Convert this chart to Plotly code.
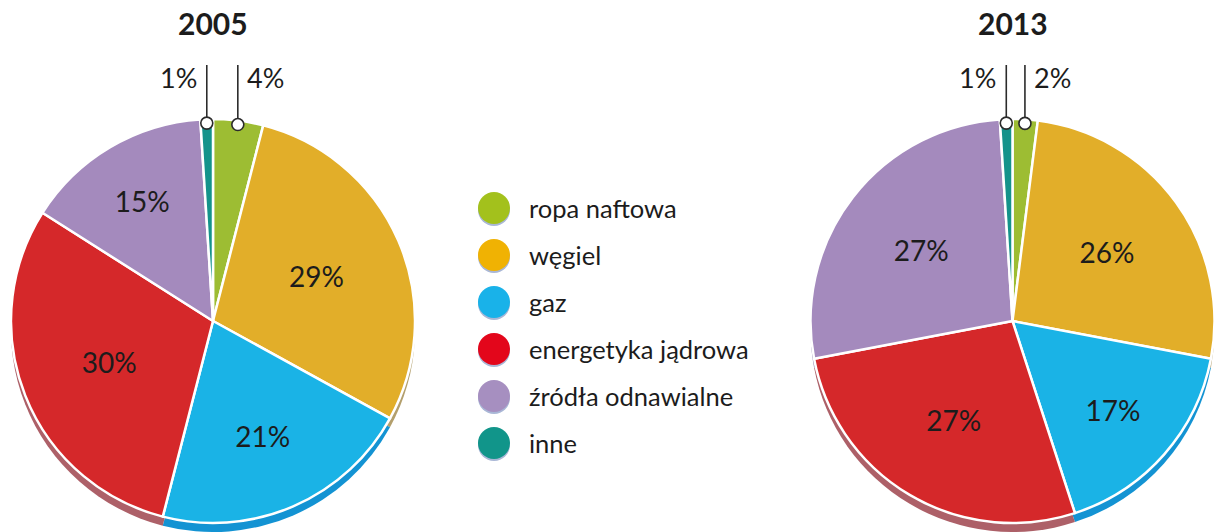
import math
import plotly.graph_objects as go

# ---------------- data ----------------
categories = ["ropa naftowa", "węgiel", "gaz", "energetyka jądrowa", "źródła odnawialne", "inne"]
years = ["2005", "2013"]
values_2005 = [4, 29, 21, 30, 15, 1]
values_2013 = [2, 26, 17, 27, 27, 1]

# ---------------- style ----------------
face_colors = ["#9dbd33", "#e2ae29", "#1ab3e6", "#d5282a", "#a48abd", "#14938b"]
rim_colors = ["#7f9a3a", "#b39f6c", "#1393d3", "#ad6068", "#8a80a8", "#1b756f"]
legend_colors = ["#a3c11c", "#f0b203", "#19b2e9", "#e3061b", "#a68fc0", "#11958a"]
FONT = "Lato, 'Open Sans', sans-serif"
TXT = "#1c1c1c"

W, H = 1215, 532


def px(x):
    return x / W


def py(y):
    return 1 - y / H


# pie boxes in pixels (x0, x1), shared (y0, y1)
boxes = [(9, 417), (810, 1215)]
Y0, Y1 = 119, 523
DEPTH = 9

fig = go.Figure()
shapes = []
annotations = []

for vals, (bx0, bx1), year in zip([values_2005, values_2013], boxes, years):
    labels_txt = [f"{v}%" if v >= 5 else "" for v in vals]
    # rim (3D depth) drawn first, shifted down
    fig.add_trace(go.Pie(
        values=vals, labels=categories, sort=False, direction="clockwise", rotation=0,
        domain=dict(x=[px(bx0), px(bx1)], y=[py(Y1 + DEPTH), py(Y0 + DEPTH)]),
        marker=dict(colors=rim_colors, line=dict(width=0)),
        textinfo="none", hoverinfo="skip", showlegend=False,
    ))
    fig.add_trace(go.Pie(
        values=vals, labels=categories, sort=False, direction="clockwise", rotation=0,
        domain=dict(x=[px(bx0), px(bx1)], y=[py(Y1), py(Y0)]),
        marker=dict(colors=face_colors, line=dict(color="white", width=2.5)),
        text=labels_txt, textinfo="text", textposition="inside",
        insidetextorientation="horizontal",
        textfont=dict(family=FONT, size=28, color=TXT),
        hoverinfo="skip", showlegend=False,
    ))

    cx = (bx0 + bx1) / 2
    cy = (Y0 + Y1) / 2
    r = min(bx1 - bx0, Y1 - Y0) / 2
    total = sum(vals)
    cum = 0
    for v in vals:
        if v < 5:
            th = 2 * math.pi * (cum + v / 2) / total
            mx = cx + (r - 4) * math.sin(th)
            my = cy - (r - 4) * math.cos(th)
            shapes.append(dict(type="line", xref="paper", yref="paper",
                               x0=px(mx), x1=px(mx), y0=py(my), y1=py(65),
                               line=dict(color="#2b2b2b", width=1.6), layer="above"))
            shapes.append(dict(type="circle", xref="paper", yref="paper",
                               x0=px(mx - 6), x1=px(mx + 6), y0=py(my + 6), y1=py(my - 6),
                               fillcolor="white", line=dict(color="#2b2b2b", width=1.6),
                               layer="above"))
            left = mx < cx
            annotations.append(dict(
                x=px(mx - 8) if left else px(mx + 7), y=py(77),
                xref="paper", yref="paper", xanchor="right" if left else "left",
                yanchor="middle", text=f"{v}%", showarrow=False,
                font=dict(family=FONT, size=27, color=TXT)))
        cum += v

    annotations.append(dict(x=px(cx), y=py(23), xref="paper", yref="paper",
                            xanchor="center", yanchor="middle", text=f"<b>{year}</b>",
                            showarrow=False, font=dict(family=FONT, size=30, color=TXT)))

# ---------------- custom legend ----------------
LX, LY0, LSTEP, LR = 494, 208, 47, 16
for i, (cat, col) in enumerate(zip(categories, legend_colors)):
    yc = LY0 + i * LSTEP
    shapes.append(dict(type="circle", xref="paper", yref="paper",
                       x0=px(LX - LR), x1=px(LX + LR), y0=py(yc + LR + 2), y1=py(yc - LR + 2),
                       fillcolor="#a9b7d6", line=dict(width=0), layer="above"))
    shapes.append(dict(type="circle", xref="paper", yref="paper",
                       x0=px(LX - LR), x1=px(LX + LR), y0=py(yc + LR), y1=py(yc - LR),
                       fillcolor=col, line=dict(width=0), layer="above"))
    annotations.append(dict(x=px(527), y=py(yc), xref="paper", yref="paper",
                            xanchor="left", yanchor="middle", text=cat, showarrow=False,
                            font=dict(family=FONT, size=25.5, color=TXT)))

fig.update_layout(
    width=W, height=H,
    margin=dict(l=0, r=0, t=0, b=0),
    paper_bgcolor="white", plot_bgcolor="white",
    showlegend=False,
    shapes=shapes, annotations=annotations,
    font=dict(family=FONT),
)

fig.write_html(
    "out.html",
    config={"displayModeBar": False, "staticPlot": True},
    post_script="document.body.style.margin='0';document.body.style.overflow='hidden';",
)
